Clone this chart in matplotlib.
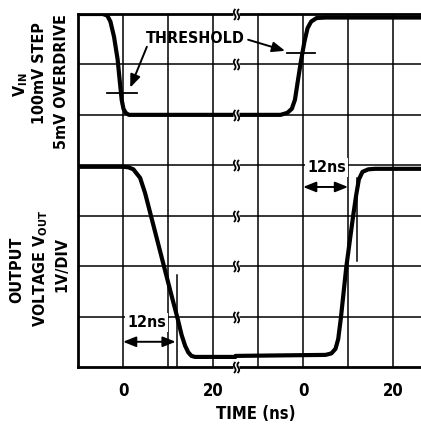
import matplotlib.pyplot as plt
import numpy as np
from matplotlib.path import Path

plt.rcParams['font.family'] = ['DejaVu Sans']
plt.rcParams['font.stretch'] = 'condensed'
plt.rcParams['font.weight'] = 'bold'
plt.rcParams['mathtext.fontset'] = 'custom'
plt.rcParams['mathtext.rm'] = 'DejaVu Sans:bold:stretch=condensed'
plt.rcParams['mathtext.it'] = 'DejaVu Sans:bold:stretch=condensed'
plt.rcParams['mathtext.default'] = 'rm'

# the time axis is broken: second sweep is shown 40 ns to the right of the first
SHIFT = 40
X_MIN, X_MAX = -10, 66.2
FS = 11.5

# input step (divisions), falling edge on the left, rising edge on the right
vin_fall_t = [-10, -4.5, -3.5, -2.8, -2.0, -1.2, -0.7, -0.3, 0.1, 0.6, 1.3, 2.5, 25]
vin_fall_v = [7.0, 7.0, 6.97, 6.85, 6.55, 6.1, 5.65, 5.3, 5.12, 5.04, 5.0, 5.0, 5.0]
vin_rise_t = [-15, -5, -3.5, -2.5, -1.8, -1.2, -0.5, 0.3, 1.0, 1.8, 3.0, 5.0, 27]
vin_rise_v = [5.0, 5.0, 5.04, 5.12, 5.3, 5.65, 6.05, 6.45, 6.72, 6.85, 6.92, 6.93, 6.93]

# output voltage (divisions)
vout_fall_t = [-10, 0, 1.2, 2.3, 3.8, 4.9, 6.0, 7.1, 8.6, 9.7, 10.8, 11.6, 12.3, 13.0, 13.8, 14.5, 15.2,
               16.0, 17.5, 25]
vout_fall_v = [3.97, 3.97, 3.96, 3.92, 3.75, 3.45, 3.07, 2.69, 2.17, 1.79, 1.41, 1.14, 0.9, 0.64, 0.42,
               0.29, 0.22, 0.2, 0.2, 0.2]
vout_rise_t = [-15, 5.0, 6.3, 7.2, 7.8, 8.4, 9.6, 11.1, 11.8, 12.4, 13.2, 14.5, 16, 27]
vout_rise_v = [0.22, 0.24, 0.27, 0.36, 0.55, 0.97, 1.98, 2.98, 3.41, 3.72, 3.87, 3.92, 3.93, 3.93]

# threshold marks: (t_start, t_end, level)
thresh_left = (-3.6, 3.1, 5.44)
thresh_right = (-3.6, 2.7, 6.23)

tick_pos = [0, 20, 0 + SHIFT, 20 + SHIFT]
tick_labels = ['0', '20', '0', '20']


def s_break_marker():
    # two little S curves, the usual "broken axis" sign
    y = np.linspace(1, -1, 20)
    verts, codes = [], []
    for x0 in (-0.32, 0.32):
        x = x0 - 0.22 * np.sin(np.pi * y) + 0.12 * y
        verts += list(zip(x, y))
        codes += [Path.MOVETO] + [Path.LINETO] * (len(y) - 1)
    return Path(verts, codes)


W, H = 421, 437
fig = plt.figure(figsize=(W / 100, H / 100), dpi=100)
ax = fig.add_axes([78 / W, 70 / H, 343 / W, 353 / H])

ax.set_xlim(X_MIN, X_MAX)
ax.set_ylim(0, 7)

# grid
for x in range(0, 70, 10):
    ax.axvline(x, color='black', lw=1.1, zorder=1)
for y in range(1, 7):
    ax.axhline(y, color='black', lw=1.1, zorder=1)

for side in ['left', 'bottom', 'top']:
    ax.spines[side].set_linewidth(2)
ax.spines['right'].set_visible(False)

ax.set_xticks(tick_pos)
ax.set_xticklabels(tick_labels, fontsize=12, fontweight='bold')
ax.set_yticks([])
ax.tick_params(axis='x', length=0, pad=11)

curve = dict(color='black', lw=3.0, solid_joinstyle='round', solid_capstyle='round', zorder=3)
ax.plot(vin_fall_t, vin_fall_v, **curve)
ax.plot(np.array(vin_rise_t) + SHIFT, vin_rise_v, **curve)
ax.plot(vout_fall_t, vout_fall_v, **curve)
ax.plot(np.array(vout_rise_t) + SHIFT, vout_rise_v, **curve)

# threshold marks
ax.plot(thresh_left[:2], [thresh_left[2]] * 2, color='black', lw=1.3, zorder=3)
ax.plot(np.array(thresh_right[:2]) + SHIFT, [thresh_right[2]] * 2, color='black', lw=1.3, zorder=3)

ax.text(16, 6.51, 'THRESHOLD', fontsize=FS, fontweight='bold', ha='center', va='center', zorder=6)
head = dict(arrowstyle='-|>,head_length=0.55,head_width=0.22', mutation_scale=14,
            color='black', lw=1.4, shrinkA=0, shrinkB=0)
ax.annotate('', xy=(1.6, 5.54), xytext=(5.3, 6.35), arrowprops=head, zorder=6)
ax.annotate('', xy=(36.0, 6.27), xytext=(27.8, 6.49), arrowprops=head, zorder=6)

# 12ns delay markers
dbl = dict(arrowstyle='<|-|>,head_length=0.55,head_width=0.22', mutation_scale=14,
           color='black', lw=1.4, shrinkA=0, shrinkB=0)
ax.plot([12, 12], [0, 1.83], color='black', lw=1.1, zorder=3)
ax.annotate('', xy=(0, 0.5), xytext=(11.7, 0.5), arrowprops=dbl, zorder=6)
ax.text(5.3, 0.89, '12ns', fontsize=FS, fontweight='bold', ha='center', va='center', zorder=6,
        bbox=dict(facecolor='white', edgecolor='none', pad=1.5))

ax.plot([12 + SHIFT] * 2, [2.1, 3.75], color='black', lw=1.1, zorder=3)
ax.annotate('', xy=(0 + SHIFT, 3.57), xytext=(10 + SHIFT, 3.57), arrowprops=dbl, zorder=6)
ax.text(5.3 + SHIFT, 3.95, '12ns', fontsize=FS, fontweight='bold', ha='center', va='center', zorder=6,
        bbox=dict(facecolor='white', edgecolor='none', pad=1.5))

# break symbols on every horizontal line
brk_y = np.arange(0, 8)
brk_x = np.full(len(brk_y), 25.0)
ax.plot(brk_x, brk_y, ls='none', marker='s', ms=5, mfc='white', mec='none', zorder=4, clip_on=False)
ax.plot(brk_x, brk_y, ls='none', marker=s_break_marker(), ms=8, mfc='none', mec='black',
        mew=1.3, zorder=5, clip_on=False)


def px(x, y):
    return x / W, 1 - y / H


lbl = dict(rotation=90, ha='center', va='center', fontsize=FS, fontweight='bold')
fig.text(*px(21, 85), r'V$_{IN}$', **lbl)
fig.text(*px(40, 73), '100mV STEP', **lbl)
fig.text(*px(61, 82), '5mV OVERDRIVE', **lbl)
fig.text(*px(17, 270), 'OUTPUT', **lbl)
fig.text(*px(41, 268), r'VOLTAGE V$_{OUT}$', **lbl)
fig.text(*px(62, 265), '1V/DIV', **lbl)
fig.text(*px(256, 414), 'TIME (ns)', ha='center', va='center', fontsize=12, fontweight='bold')

fig.savefig('out.png', dpi=100)
